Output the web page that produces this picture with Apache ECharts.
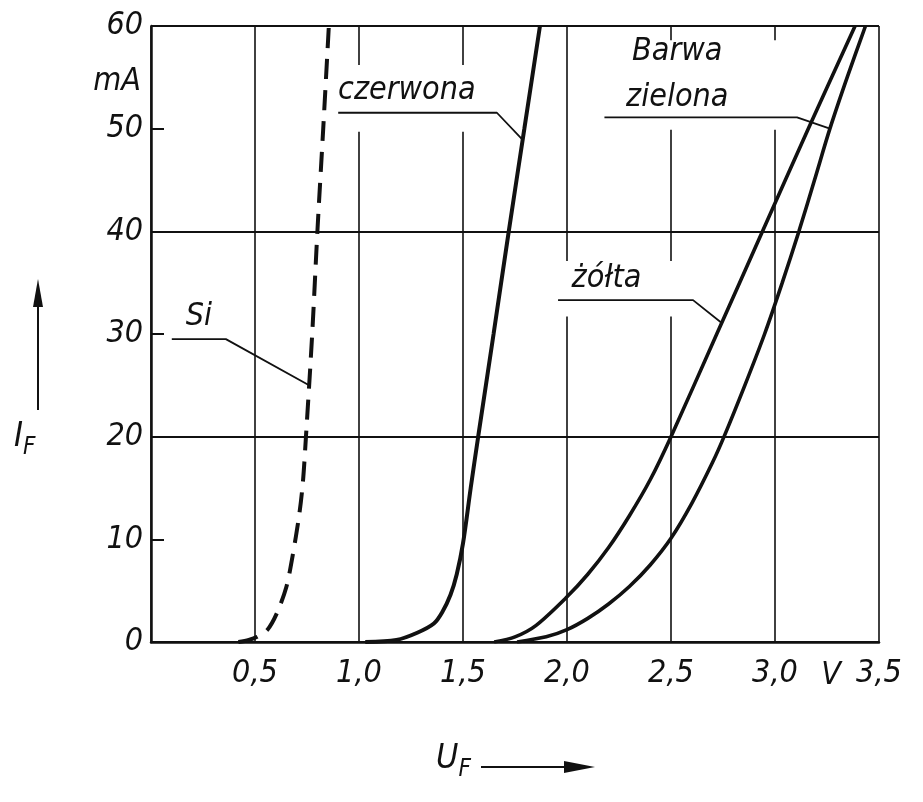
<!DOCTYPE html>
<html>
<head>
<meta charset="utf-8">
<script src="https://cdn.jsdelivr.net/npm/echarts@6/dist/echarts.min.js"></script>
<style>html,body{margin:0;padding:0;background:#fff;}#chart{width:923px;height:802px;}</style>
</head>
<body>
<div id="chart"></div>
<script>
// ---- data (U_F in V, I_F in mA) ----
const siCurve = [[0.42,0],[0.47,0.2],[0.51,0.5],[0.56,1.2],[0.605,2.8],[0.65,5.3],[0.68,8.3],[0.712,12.3],[0.73,15.5],[0.745,20],[0.775,30],[0.80,40],[0.828,50],[0.855,60]];
const redCurve = [[1.03,0],[1.18,0.2],[1.28,0.9],[1.36,1.8],[1.40,2.9],[1.44,4.6],[1.47,6.6],[1.50,9.6],[1.537,15],[1.573,20],[1.647,30],[1.72,40],[1.795,50],[1.87,60]];
const yellowCurve = [[1.65,0],[1.75,0.5],[1.85,1.6],[2.0,4.4],[2.1,6.6],[2.2,9.2],[2.3,12.3],[2.4,15.8],[2.5,20],[2.72,30],[2.94,40],[3.16,50],[3.385,60]];
const greenCurve = [[1.76,0],[1.9,0.5],[2.0,1.2],[2.1,2.3],[2.2,3.7],[2.3,5.4],[2.4,7.5],[2.5,10.1],[2.6,13.5],[2.7,17.5],[2.755,20],[2.855,25],[2.95,30],[3.035,35],[3.115,40],[3.19,45],[3.264,50],[3.347,55],[3.435,60]];

const xTickValues = [0.5,1.0,1.5,2.0,2.5,3.0,3.5];
const xTickLabels = ['0,5','1,0','1,5','2,0','2,5','3,0','3,5'];
const yTickValues = [0,10,20,30,40,50,60];
const yTickLabels = ['0','10','20','30','40','50','60'];

const curveNames = ['Si','czerwona','Barwa\nzielona','żółta'];
// annotation anchors in data units
const textAnchors = [[0.23,31.7],[1.23,53.7],[2.53,55.3],[2.19,35.4]];
const leaderLines = [
  [[0.10,29.5],[0.36,29.5],[0.76,25.0]],
  [[0.90,51.55],[1.663,51.55],[1.787,48.9]],
  [[2.18,51.1],[3.106,51.1],[3.264,50.0]],
  [[1.957,33.3],[2.606,33.3],[2.744,31.07]]
];
const gapBoxes = [
  [[0.95,49.7],[1.62,56.2]],
  [[2.16,49.9],[3.07,58.6]],
  [[1.92,31.7],[2.64,37.1]]
];

const INK = '#111';
const FONT = '"DejaVu Sans Condensed","DejaVu Sans",sans-serif';

const chart = echarts.init(document.getElementById('chart'), null, {renderer:'canvas'});

const series = [];
// white gaps in the grid behind annotation texts
series.push({
  type:'line', data:[], z:1, silent:true, xAxisIndex:0, yAxisIndex:0,
  markArea:{silent:true, itemStyle:{color:'#fff', opacity:1}, label:{show:false},
    data: gapBoxes.map(b => [{coord:b[0]},{coord:b[1]}])}
});
const curveStyle = (w, dashed) => ({
  type:'line', smooth:0.3, showSymbol:false, symbol:'none', z:6, silent:true,
  lineStyle:{color:INK, width:w, type: dashed ? [20,11] : 'solid', cap:'butt'}
});
series.push(Object.assign(curveStyle(4, true), {name:'Si', data:siCurve}));
series.push(Object.assign(curveStyle(4, false), {name:'czerwona', data:redCurve}));
series.push(Object.assign(curveStyle(3.6, false), {name:'żółta', data:yellowCurve}));
series.push(Object.assign(curveStyle(3.6, false), {name:'zielona', data:greenCurve}));
leaderLines.forEach(l => series.push({
  type:'line', data:l, showSymbol:false, symbol:'none', z:5, silent:true,
  lineStyle:{color:INK, width:1.8}
}));
series.push({
  type:'scatter', symbolSize:0, z:7, silent:true, itemStyle:{opacity:1},
  data: textAnchors.map((p,i) => ({value:p, label:{formatter:curveNames[i]}})),
  label:{show:true, position:'inside', color:INK, opacity:1, fontFamily:FONT, fontStyle:'italic', fontSize:32, lineHeight:46}
});
// unit labels
series.push({
  type:'scatter', symbolSize:0, z:7, silent:true, clip:false, itemStyle:{opacity:1},
  data:[
    {value:[0,54.6], label:{formatter:'mA', position:'left', distance:10}},
    {value:[3.27,0], label:{formatter:'V', position:'bottom', distance:18}}
  ],
  label:{show:true, color:INK, opacity:1, fontFamily:FONT, fontStyle:'italic', fontSize:32}
});

const option = {
  backgroundColor:'#fff',
  animation:false,
  grid:{left:151, right:44, top:26, bottom:160, containLabel:false},
  xAxis:{
    type:'value', min:0, max:3.5, interval:0.5,
    axisLine:{show:true, onZero:false, lineStyle:{color:INK, width:2.5}},
    axisTick:{show:false},
    splitLine:{show:true, lineStyle:{color:INK, width:1.6}},
    axisLabel:{show:true, margin:16, color:INK, fontFamily:FONT, fontStyle:'italic', fontSize:32,
      showMinLabel:true, showMaxLabel:true,
      formatter: v => { const i = xTickValues.findIndex(t => Math.abs(t-v)<1e-6); return i<0 ? '' : xTickLabels[i]; }}
  },
  yAxis:[{
    type:'value', min:0, max:60, interval:10,
    axisLine:{show:true, onZero:false, lineStyle:{color:INK, width:2.5}},
    axisTick:{show:true, inside:true, length:13, lineStyle:{color:INK, width:2}},
    splitLine:{show:false},
    axisLabel:{show:true, margin:8, color:INK, fontFamily:FONT, fontStyle:'italic', fontSize:32,
      formatter: v => { const i = yTickValues.indexOf(Math.round(v)); return i<0 ? '' : yTickLabels[i]; }}
  },{
    type:'value', min:0, max:60, interval:20, position:'left',
    axisLine:{show:false}, axisTick:{show:false}, axisLabel:{show:false},
    splitLine:{show:true, lineStyle:{color:INK, width:1.8}}
  }],
  graphic:[
    // I_F with arrow
    {type:'line', shape:{x1:38, y1:410, x2:38, y2:300}, style:{stroke:INK, lineWidth:2}},
    {type:'polygon', shape:{points:[[38,279],[33,307],[43,307]]}, style:{fill:INK}},
    {type:'text', left:14, top:420, style:{text:'{a|I}{b|F}', rich:{
      a:{fontFamily:FONT, fontStyle:'italic', fontSize:34, fill:INK},
      b:{fontFamily:FONT, fontStyle:'italic', fontSize:24, fill:INK, padding:[22,0,0,0]}}}},
    // U_F with arrow
    {type:'text', left:436, top:742, style:{text:'{a|U}{b|F}', rich:{
      a:{fontFamily:FONT, fontStyle:'italic', fontSize:34, fill:INK},
      b:{fontFamily:FONT, fontStyle:'italic', fontSize:24, fill:INK, padding:[22,0,0,0]}}}},
    {type:'line', shape:{x1:481, y1:767, x2:570, y2:767}, style:{stroke:INK, lineWidth:2}},
    {type:'polygon', shape:{points:[[595,767],[564,761],[564,773]]}, style:{fill:INK}}
  ],
  series: series
};
chart.setOption(option);
</script>
</body>
</html>
